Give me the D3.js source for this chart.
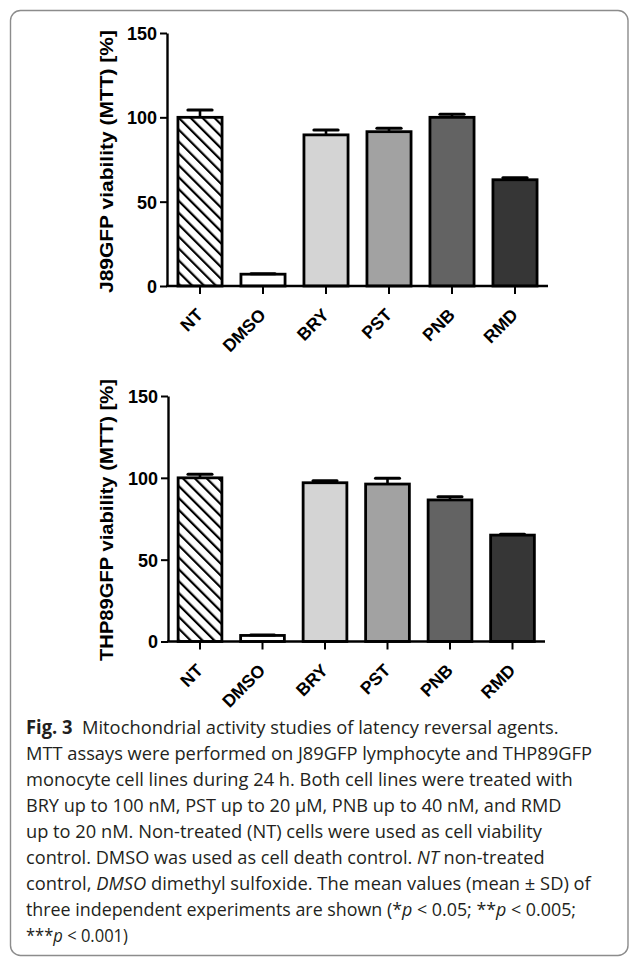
<!DOCTYPE html>
<html><head><meta charset="utf-8">
<script src="https://cdn.jsdelivr.net/npm/d3@7"></script>
<style>html,body{margin:0;padding:0;background:#fff;} svg{display:block;}</style>
</head><body>
<svg id="fig" width="629" height="958"></svg>
<script>
// ---------------- data ----------------
const categories = ["NT", "DMSO", "BRY", "PST", "PNB", "RMD"];
const j89Mean = [100, 7, 89.6, 91.5, 100, 63];
const j89SD   = [4.4, 0.3, 2.9, 2.0, 1.8, 1.2];
const thpMean = [100, 3.7, 97, 96.2, 86.5, 65];
const thpSD   = [2.2, 0.2, 1.2, 3.5, 2.0, 0.6];
const yTicks = [0, 50, 100, 150];
const yDomain = [0, 150];
const j89Title = "J89GFP viability (MTT) [%]";
const thpTitle = "THP89GFP viability (MTT) [%]";
const barFills = ["url(#hatch)", "#ffffff", "#d4d4d4", "#a2a2a2", "#636363", "#363636"];
const captionLines = [
  [["Fig. 3", "b"], ["  Mitochondrial activity studies of latency reversal agents.", "n"]],
  [["MTT assays were performed on J89GFP lymphocyte and THP89GFP", "n"]],
  [["monocyte cell lines during 24 h. Both cell lines were treated with", "n"]],
  [["BRY up to 100 nM, PST up to 20 \u00b5M, PNB up to 40 nM, and RMD", "n"]],
  [["up to 20 nM. Non-treated (NT) cells were used as cell viability", "n"]],
  [["control. DMSO was used as cell death control. ", "n"], ["NT", "i"], [" non-treated", "n"]],
  [["control, ", "n"], ["DMSO", "i"], [" dimethyl sulfoxide. The mean values (mean \u00b1 SD) of", "n"]],
  [["three independent experiments are shown (*", "n"], ["p", "i"], [" < 0.05; **", "n"], ["p", "i"], [" < 0.005;", "n"]],
  [["***", "n"], ["p", "i"], [" < 0.001)", "n"]]
];

// ---------------- layout ----------------
const captionRight = [559, 592.5, 573, 562, 542.5, 545, 591, 576.5, 128];
const panels = [
  { mean: j89Mean, sd: j89SD, title: j89Title, axisX: 167, y0: 286, y150: 33,
    xRange: [168.5, 546.5], axisEnd: 548, titleX: 113, titleY: 161.5, titleLen: 263 },
  { mean: thpMean, sd: thpSD, title: thpTitle, axisX: 168, y0: 641.5, y150: 396,
    xRange: [168.75, 543.75], axisEnd: 545, titleX: 113, titleY: 520, titleLen: 282 }
];

const svg = d3.select("#fig");
const defs = svg.append("defs");
const pat = defs.append("pattern").attr("id", "hatch")
  .attr("patternUnits", "userSpaceOnUse").attr("width", 8.4).attr("height", 8.4)
  .attr("patternTransform", "rotate(-45)");
pat.append("rect").attr("width", 8.4).attr("height", 8.4).attr("fill", "#fff");
pat.append("rect").attr("x", 0).attr("width", 2.2).attr("height", 8.4).attr("fill", "#000");

// frame
svg.append("rect").attr("x", 10.5).attr("y", 10.5).attr("width", 617.5).attr("height", 945)
  .attr("rx", 10).attr("fill", "none").attr("stroke", "#8c8c8c").attr("stroke-width", 1.4);

const bold = "'Liberation Sans', Arial, sans-serif";

panels.forEach(p => {
  const g = svg.append("g");
  const x = d3.scaleBand().domain(categories).range(p.xRange).paddingInner(0.3).paddingOuter(0.15);
  const y = d3.scaleLinear().domain(yDomain).range([p.y0, p.y150]);
  const data = categories.map((c, i) => ({ c, m: p.mean[i], s: p.sd[i], f: barFills[i] }));

  // bars
  g.selectAll("rect.bar").data(data).join("rect").attr("class", "bar")
    .attr("x", d => x(d.c)).attr("width", x.bandwidth())
    .attr("y", d => y(d.m)).attr("height", d => y(0) - y(d.m))
    .attr("fill", d => d.f).attr("stroke", "#000").attr("stroke-width", 2.8);

  // error bars (upper only)
  const capW = x.bandwidth() * 0.55;
  g.selectAll("line.stem").data(data).join("line").attr("class", "stem")
    .attr("x1", d => x(d.c) + x.bandwidth() / 2).attr("x2", d => x(d.c) + x.bandwidth() / 2)
    .attr("y1", d => y(d.m)).attr("y2", d => y(d.m + d.s))
    .attr("stroke", "#000").attr("stroke-width", 2.6);
  g.selectAll("line.cap").data(data).join("line").attr("class", "cap")
    .attr("x1", d => x(d.c) + x.bandwidth() / 2 - capW / 2).attr("x2", d => x(d.c) + x.bandwidth() / 2 + capW / 2)
    .attr("y1", d => y(d.m + d.s)).attr("y2", d => y(d.m + d.s))
    .attr("stroke", "#000").attr("stroke-width", 3).attr("stroke-linecap", "round");

  // y axis
  const ya = g.append("g").attr("transform", `translate(${p.axisX},0)`)
    .call(d3.axisLeft(y).tickValues(yTicks).tickSize(7).tickSizeOuter(0).tickPadding(3).tickFormat(d3.format("d")));
  ya.select(".domain").attr("stroke-width", 2.4).attr("stroke", "#000");
  ya.selectAll(".tick line").attr("stroke-width", 2).attr("stroke", "#000");
  ya.selectAll(".tick text").attr("font-family", bold).attr("font-weight", "bold")
    .attr("font-size", 18).attr("fill", "#000").attr("dy", "0.36em");

  // x axis
  const xa = g.append("g").attr("transform", `translate(0,${p.y0})`)
    .call(d3.axisBottom(x).tickSize(8).tickSizeOuter(0).tickPadding(0));
  xa.select(".domain").remove();
  g.append("line").attr("x1", p.axisX - 1).attr("x2", p.axisEnd).attr("y1", p.y0).attr("y2", p.y0)
    .attr("stroke", "#000").attr("stroke-width", 2.4);
  xa.selectAll(".tick line").attr("stroke-width", 2).attr("stroke", "#000");
  xa.selectAll(".tick text").attr("font-family", bold).attr("font-weight", "bold")
    .attr("font-size", 17.5).attr("fill", "#000").attr("text-anchor", "end")
    .attr("y", 0).attr("dy", 0)
    .attr("transform", "translate(4,30) rotate(-45)");

  // y title
  g.append("text").attr("transform", `translate(${p.titleX},${p.titleY}) rotate(-90)`)
    .attr("text-anchor", "middle").attr("font-family", bold).attr("font-weight", "bold")
    .attr("font-size", 18.5).attr("textLength", p.titleLen).attr("lengthAdjust", "spacingAndGlyphs")
    .text(p.title);
});

// caption
const capG = svg.append("g").attr("font-family", "'Open Sans', 'Noto Sans', sans-serif")
  .attr("font-size", 19).attr("fill", "#231f20");
captionLines.forEach((segs, i) => {
  const t = capG.append("text").attr("x", 0).attr("y", 0).attr("xml:space", "preserve")
    .style("white-space", "pre");
  segs.forEach(([s, st]) => {
    const ts = t.append("tspan").text(s);
    if (st === "b") ts.attr("font-weight", "bold");
    if (st === "i") ts.attr("font-style", "italic");
  });
  const w = t.node().getComputedTextLength();
  const target = captionRight[i] - 26;
  const sx = target / w;
  t.attr("transform", `translate(26,${734 + i * 26}) scale(${sx},1)`);
});
</script>
</body></html>
